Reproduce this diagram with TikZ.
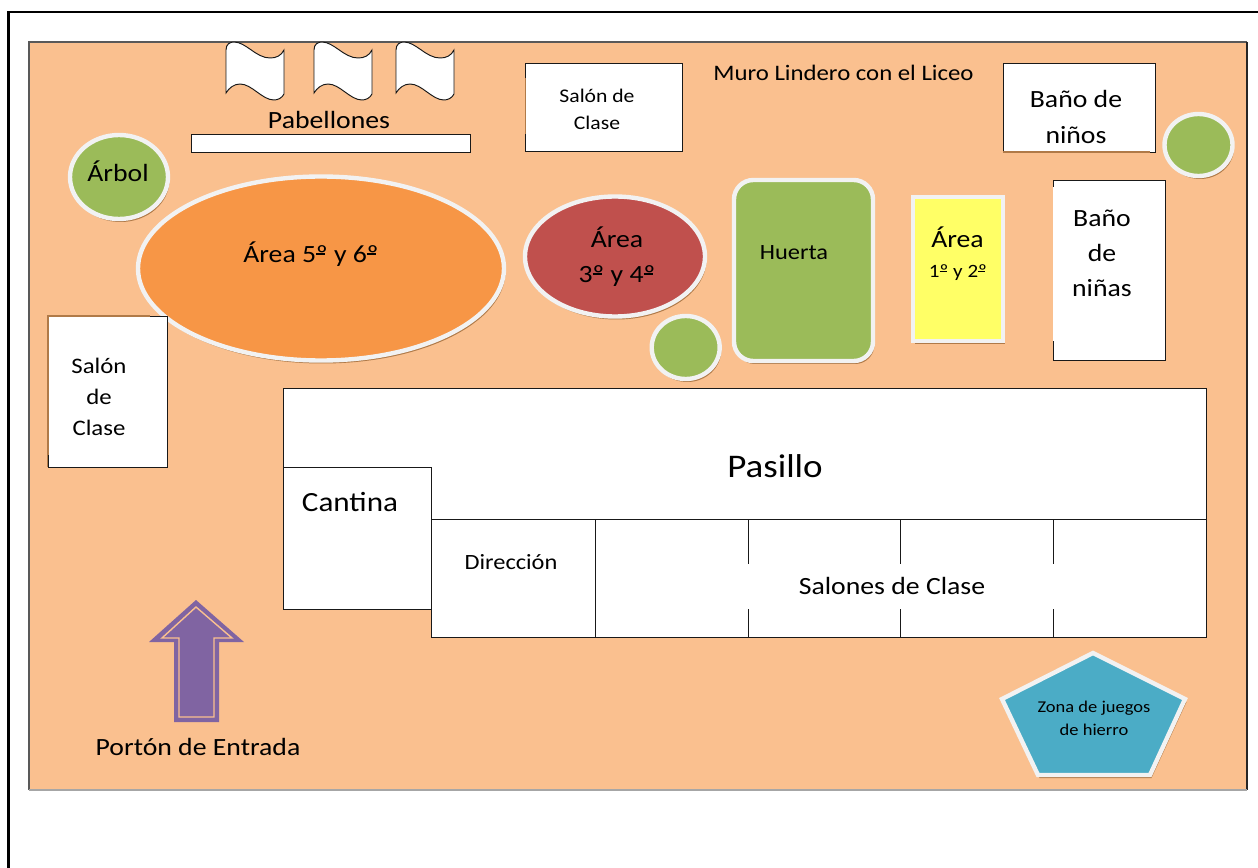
\documentclass[tikz,border=0pt]{standalone}
\usepackage{fontspec}
\setmainfont[FakeStretch=1.12]{Carlito}
\usetikzlibrary{shadows}
\definecolor{sand}{HTML}{FAC08F}
\definecolor{leaf}{HTML}{9BBB59}
\definecolor{brick}{HTML}{C0504D}
\definecolor{tangerine}{HTML}{F79646}
\definecolor{lemon}{HTML}{FFFF66}
\definecolor{teal}{HTML}{4BACC6}
\definecolor{plum}{HTML}{8064A2}
\definecolor{rim}{HTML}{F2F2F2}
\definecolor{soil}{HTML}{B07A48}
\newcommand{\ordo}{\makebox[0pt][l]{\rule[0.31em]{0.37em}{0.05em}}º}
\tikzset{
  wall/.style={draw=black!90, line width=0.55pt, fill=white},
  edge/.style={black!90, line width=0.55pt},
  bed/.style={draw=rim, line width=2.5pt, drop shadow={shadow xshift=0.03cm, shadow yshift=-0.06cm, fill=soil, opacity=1}},
  flagpath/.style={insert path={(0,51) -- (0,8) .. controls (0,2) and (4,0) .. (8,0)
    .. controls (20,0) and (30,16) .. (44,16) .. controls (50,16) and (55,14) .. (58,8)
    -- (58,52) .. controls (56,56) and (52,58) .. (48,58)
    .. controls (36,58) and (26,42) .. (14,42) .. controls (8,42) and (3,46) .. (0,51) -- cycle}},
  txtzona/.style={font=\fontsize{9.4}{13}\selectfont, align=center},
  txtord/.style={font=\fontsize{10.7}{13}\selectfont, align=center},
  txtroom/.style={font=\fontsize{11}{15.4}\selectfont, align=center},
  txtname/.style={font=\fontsize{12.4}{15}\selectfont, align=center},
  txtside/.style={font=\fontsize{12.6}{17.6}\selectfont, align=center},
  txtbig/.style={font=\fontsize{14.1}{20}\selectfont, align=center},
  txtcant/.style={font=\fontsize{15.8}{19}\selectfont, align=center},
  txthall/.style={font=\fontsize{18.8}{22}\selectfont, align=center}
}
\begin{document}
\begin{tikzpicture}[x=0.02cm, y=-0.02cm]
\useasboundingbox (0,0) rectangle (1258,868);
% Frame and ground
\draw[black, line width=1.2pt] (8.5,868) -- (8.5,12) -- (1258,12);
\fill[sand] (29,42) rectangle (1247,790);
\draw[black!65, line width=0.6pt] (29,790) -- (29,42) -- (1247,42);
\draw[black!85, line width=0.6pt] (1247,42) -- (1247,790);
\draw[black!35, line width=0.6pt] (29,790) -- (1247,790);

% Flags
\draw[wall, shift={(226,42)}, flagpath];
\draw[wall, shift={(314,42)}, flagpath];
\draw[wall, shift={(396,42)}, flagpath];
\draw[wall] (191,134) rectangle (470,152);
\node[txtbig] (pabellones) at (329,120) {Pabellones};

% Green spots
\draw[bed, fill=leaf] (119,177) ellipse (49 and 42);
\draw[bed, fill=leaf] (1198.5,145) ellipse (34 and 31);
\draw[bed, fill=leaf] (685.7,347.5) ellipse (34 and 31.5);
\node[txtbig] (arbol) at (118,171) {Árbol};

% Play areas
\draw[bed, fill=tangerine] (321,268.5) ellipse (183 and 92);
\draw[bed, fill=brick] (615,256.5) ellipse (90 and 60);
\draw[bed, fill=leaf, rounded corners=11pt] (734,180) rectangle (873,361);
\draw[bed, fill=lemon] (913,197) rectangle (1003,341);
\draw[bed, fill=teal] (1093,653) -- (1185,699) -- (1150,775) -- (1038,775) -- (1002,699) -- cycle;
\node[txtbig] (area56) at (311,254) {Área 5\ordo{} y 6\ordo};
\node[txtbig] (area34) at (617,256.5) {Área\\3\ordo{} y 4\ordo};
\node[txtname] (huerta) at (794,253) {Huerta};
\node[txtbig] (area12a) at (957.5,237.5) {Área};
\node[txtord] (area12b) at (958,272.5) {1\ordo{} y 2\ordo};
\node[txtzona] (juegos) at (1094,718.5) {Zona de juegos\\de hierro};

% Rooms
\draw[wall] (525.6,63) rectangle (682.8,151);
\draw[soil, line width=0.7pt] (525.6,78) -- (525.6,134);
\node[txtroom] (salonup) at (597,109) {Salón de\\Clase};
\node[txtside] (muro) at (843.5,73) {Muro Lindero con el Liceo};
\fill[white] (1003,63) rectangle (1155,152);
\draw[edge] (1003,152) -- (1003,63) -- (1155,63) -- (1155,152) -- (1150,152);
\draw[soil, line width=0.6pt] (1003,152) -- (1150,152);
\node[txtbig] (nino) at (1076,117) {Baño de\\niños};
\draw[wall] (1053.6,180) rectangle (1165,360);
\draw[white, line width=1.2pt] (1053.6,187) -- (1053.6,341);
\node[txtbig] (nina) at (1102,253) {Baño\\de\\niñas};
\fill[white] (48,316) rectangle (167,467);
\draw[soil, line width=0.6pt] (48,467) -- (48,316) -- (150,316);
\draw[edge] (150,316) -- (167,316) -- (167,467) -- (48,467) -- (48,455);
\node[txtside] (salonleft) at (99,397) {Salón\\de\\Clase};

% Block of the school
\draw[wall] (283,388) rectangle (1206,519);
\draw[wall] (283,467) rectangle (431,609);
\draw[wall] (431,519) rectangle (1206,637);
\draw[edge] (595,519) -- (595,637);
\draw[edge] (748,519) -- (748,564);
\draw[edge] (748,609) -- (748,637);
\draw[edge] (900,519) -- (900,564);
\draw[edge] (900,609) -- (900,637);
\draw[edge] (1053,519) -- (1053,564);
\draw[edge] (1053,609) -- (1053,637);
\node[txthall] (pasillo) at (775,466) {Pasillo};
\node[txtcant] (cantina) at (350,502) {Cantina};
\node[txtname] (direccion) at (511,562) {Dirección};
\node[txtbig] (salones) at (892,586) {Salones de Clase};

% Gate
\fill[plum] (196,600) -- (244,642) -- (219,642) -- (219,722) -- (174,722) -- (174,642) -- (149,642) -- cycle;
\draw[sand, line width=0.8pt] (196,607) -- (232,638) -- (214,638) -- (214,717) -- (179,717) -- (179,638) -- (162,638) -- cycle;
\node[txtbig] (porton) at (198,747) {Portón de Entrada};
\end{tikzpicture}
\end{document}
